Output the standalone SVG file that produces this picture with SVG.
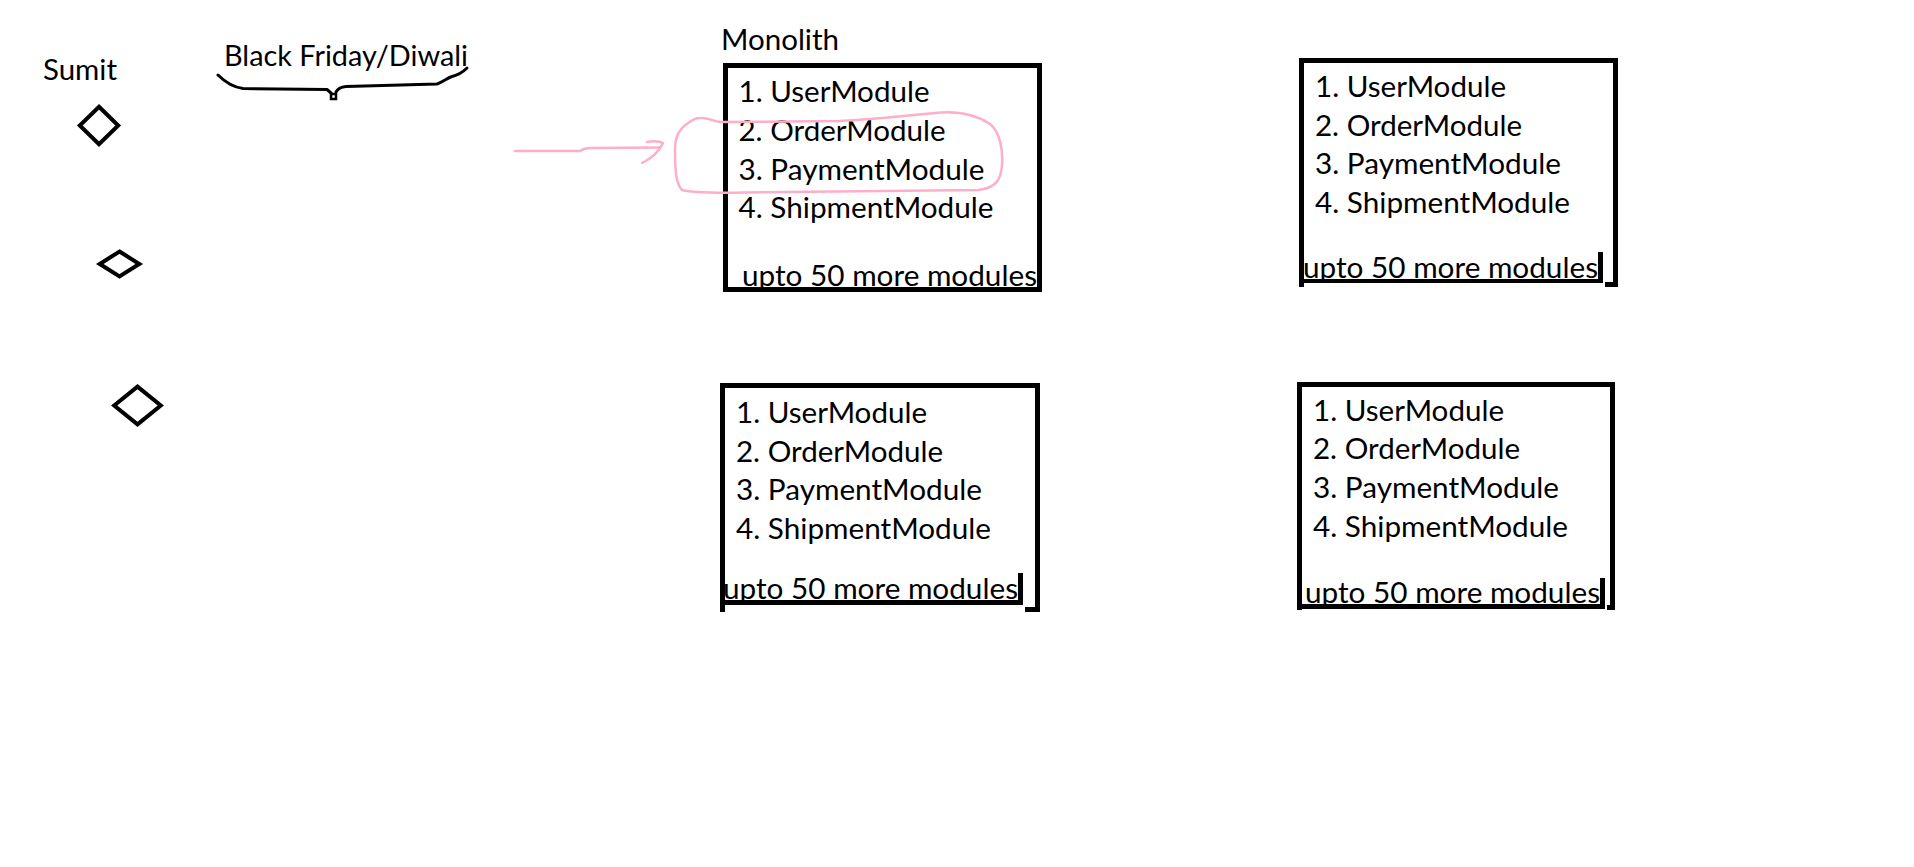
<svg xmlns="http://www.w3.org/2000/svg" width="1914" height="867" viewBox="0 0 1914 867">
<style>
.t{font-family:Lato,"Liberation Sans",sans-serif;font-size:28.5px;fill:#000}
.box{fill:none;stroke:#000;stroke-width:5}
.dia{fill:none;stroke:#000;stroke-width:4;stroke-linejoin:miter}
.ink{fill:none;stroke:#000;stroke-width:3;stroke-linecap:round;stroke-linejoin:round}
.pink{fill:none;stroke:#ffaec9;stroke-width:2.5;stroke-linecap:round;stroke-linejoin:round}
.blk{fill:#000}
.wht{fill:#fff}
</style>
<rect width="1914" height="867" fill="#fff"/>

<g id="user-sumit">
<text class="t" x="43" y="80" textLength="74" lengthAdjust="spacingAndGlyphs">Sumit</text>
</g>
<g id="client-1"><polygon class="dia" points="99,106.8 118.2,125.5 99,144.2 79.8,125.5"/></g>
<g id="client-2"><polygon class="dia" points="119.5,251.5 139.3,264 119.5,276.5 99.7,264"/></g>
<g id="client-3"><polygon class="dia" points="137.5,386.6 160.8,405.5 137.5,424.4 114.2,405.5"/></g>

<g id="label-black-friday">
<text class="t" x="224" y="66" textLength="244" lengthAdjust="spacingAndGlyphs">Black Friday/Diwali</text>
<path class="ink" d="M218,75 C225,82 232,87 243,88.5 L327,89.5 L331,93"/>
<rect x="331" y="94" width="5" height="5" fill="none" stroke="#000" stroke-width="2.5"/>
<path class="ink" d="M336,92 C338,88 341,87 346,86.5 L437,84 C443,82 447,78 452,76.5 C458,75 462,73 467,68"/>
</g>

<g id="monolith-1">
<text class="t" x="721" y="50" textLength="118" lengthAdjust="spacingAndGlyphs">Monolith</text>
<text class="t" x="738.5" y="102" textLength="191" lengthAdjust="spacingAndGlyphs">1. UserModule</text>
<text class="t" x="738.5" y="141" textLength="207" lengthAdjust="spacingAndGlyphs">2. OrderModule</text>
<text class="t" x="738.5" y="179.5" textLength="246" lengthAdjust="spacingAndGlyphs">3. PaymentModule</text>
<text class="t" x="738.5" y="218" textLength="255" lengthAdjust="spacingAndGlyphs">4. ShipmentModule</text>
<text class="t" x="742" y="286" textLength="295" lengthAdjust="spacingAndGlyphs">upto 50 more modules</text>
<rect class="box" x="725.5" y="65.5" width="314" height="224"/>
</g>

<g id="monolith-2">
<rect class="box" x="1301.5" y="60.5" width="314" height="224"/>
<rect class="wht" x="1304" y="245" width="301" height="44"/>
<text class="t" x="1315" y="97" textLength="191" lengthAdjust="spacingAndGlyphs">1. UserModule</text>
<text class="t" x="1315" y="136" textLength="207" lengthAdjust="spacingAndGlyphs">2. OrderModule</text>
<text class="t" x="1315" y="174" textLength="246" lengthAdjust="spacingAndGlyphs">3. PaymentModule</text>
<text class="t" x="1315" y="213" textLength="255" lengthAdjust="spacingAndGlyphs">4. ShipmentModule</text>
<text class="t" x="1303" y="277.5" textLength="295" lengthAdjust="spacingAndGlyphs">upto 50 more modules</text>
<rect class="blk" x="1299" y="279" width="304" height="4"/>
<rect class="blk" x="1598" y="252" width="5" height="31"/>
</g>

<g id="monolith-3">
<rect class="box" x="722.5" y="385.5" width="315" height="224"/>
<rect class="wht" x="725" y="568" width="300" height="46"/>
<text class="t" x="736" y="423" textLength="191" lengthAdjust="spacingAndGlyphs">1. UserModule</text>
<text class="t" x="736" y="462" textLength="207" lengthAdjust="spacingAndGlyphs">2. OrderModule</text>
<text class="t" x="736" y="500" textLength="246" lengthAdjust="spacingAndGlyphs">3. PaymentModule</text>
<text class="t" x="736" y="539" textLength="255" lengthAdjust="spacingAndGlyphs">4. ShipmentModule</text>
<text class="t" x="723" y="599" textLength="295" lengthAdjust="spacingAndGlyphs">upto 50 more modules</text>
<rect class="blk" x="720" y="600" width="303" height="5"/>
<rect class="blk" x="1018" y="573" width="5" height="32"/>
</g>

<g id="monolith-4">
<rect class="box" x="1299.5" y="384.5" width="313" height="223"/>
<rect class="wht" x="1302" y="573" width="305" height="40"/>
<text class="t" x="1313" y="421" textLength="191" lengthAdjust="spacingAndGlyphs">1. UserModule</text>
<text class="t" x="1313" y="459" textLength="207" lengthAdjust="spacingAndGlyphs">2. OrderModule</text>
<text class="t" x="1313" y="498" textLength="246" lengthAdjust="spacingAndGlyphs">3. PaymentModule</text>
<text class="t" x="1313" y="537" textLength="255" lengthAdjust="spacingAndGlyphs">4. ShipmentModule</text>
<text class="t" x="1305" y="603" textLength="295" lengthAdjust="spacingAndGlyphs">upto 50 more modules</text>
<rect class="blk" x="1297" y="604" width="308" height="5"/>
<rect class="blk" x="1600" y="578" width="5" height="31"/>
</g>

<g id="highlight">
<path class="pink" d="M700,118 C708,117 712,121 720,122 L840,121 C880,119 910,115 935,113 C955,111 975,114 990,124 C1000,132 1003,150 1002,165 C1001,180 996,188 978,190 L745,192.5 C720,193 695,193 682,190 C676,184 675,170 675,150 C675,138 678,130 688,123 C692,120 696,118 700,118 Z"/>
</g>

<g id="connectors">
<path class="pink" d="M515,151 L580,151 C583,149 585,148 590,148 L660,147.5"/>
<path class="pink" d="M647,142 C653,141 659,141 663,143 C660,150 652,158 642,163"/>
</g>
</svg>
